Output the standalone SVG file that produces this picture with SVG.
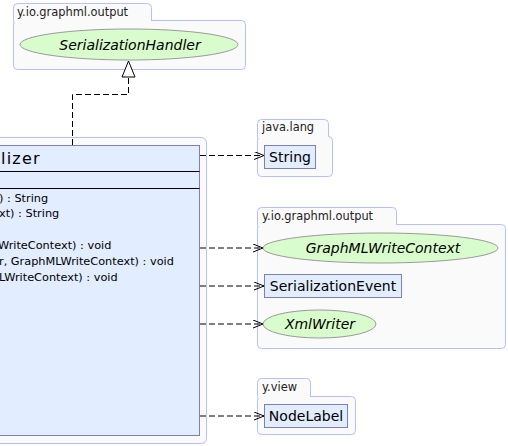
<svg xmlns="http://www.w3.org/2000/svg" width="508" height="446" viewBox="0 0 508 446">
<style>
.pkg{fill:#fafafa;stroke:#b4c0ff;stroke-width:1}
.pl{font-family:"DejaVu Sans",sans-serif;font-size:11.4px;fill:#222}
.cls{fill:#e2edff;stroke:#7c80b4;stroke-width:1}
.ell{fill:#d9fccc;stroke:#9a9a9a;stroke-width:1}
.cn{font-family:"DejaVu Sans",sans-serif;font-size:14px;fill:#000}
.it{font-style:italic}
.m{font-family:"DejaVu Sans",sans-serif;font-size:11.3px;fill:#000}
.e{fill:none;stroke:#000;stroke-width:1;stroke-dasharray:6,3}
</style>
<defs>
<marker id="vee" markerWidth="11" markerHeight="10" refX="10" refY="4" orient="auto" markerUnits="userSpaceOnUse">
<path d="M0,0 L10,4 L0,8" fill="none" stroke="#000" stroke-width="1"/>
</marker>
</defs>
<g id="pkg-top">
<rect class="pkg" x="13.5" y="3.5" width="138" height="22" rx="4"/>
<rect class="pkg" x="13.5" y="20.5" width="232" height="49" rx="4"/>
<rect x="14" y="19" width="137" height="3" fill="#fafafa"/>
<text class="pl" x="17" y="16">y.io.graphml.output</text>
</g>
<g id="SerializationHandler">
<ellipse class="ell" cx="129" cy="44.5" rx="109" ry="15.5"/>
<text class="cn it" x="130" y="49.5" text-anchor="middle">SerializationHandler</text>
</g>
<g id="class-container">
<rect class="pkg" x="-10.5" y="137.5" width="217" height="306" rx="5"/>
<rect class="cls" x="-10.5" y="145.5" width="210" height="290"/>
<line x1="-10" y1="171.5" x2="199.5" y2="171.5" stroke="#000"/>
<line x1="-10" y1="188.5" x2="199.5" y2="188.5" stroke="#000"/>
<text x="1" y="164" font-family="DejaVu Sans,sans-serif" font-size="16" letter-spacing="1.2" fill="#000">lizer</text>
<text class="m" x="-1" y="202">) : String</text>
<text class="m" x="-1" y="217">xt) : String</text>
<text class="m" x="-2" y="249">WriteContext) : void</text>
<text class="m" x="-1" y="265">r, GraphMLWriteContext) : void</text>
<text class="m" x="-1" y="281">LWriteContext) : void</text>
</g>
<g id="pkg-java-lang">
<rect class="pkg" x="257.5" y="119.5" width="71" height="22" rx="4"/>
<rect class="pkg" x="257.5" y="136.5" width="75" height="40" rx="4"/>
<rect x="258" y="135" width="70" height="3" fill="#fafafa"/>
<text class="pl" x="262" y="131">java.lang</text>
</g>
<g id="String">
<rect class="cls" x="264.5" y="145.5" width="51" height="23"/>
<text class="cn" x="290" y="162" text-anchor="middle">String</text>
</g>
<g id="pkg-output">
<rect class="pkg" x="257.5" y="207.5" width="139" height="22" rx="4"/>
<rect class="pkg" x="257.5" y="224.5" width="248" height="124" rx="4"/>
<rect x="258" y="223" width="138" height="3" fill="#fafafa"/>
<text class="pl" x="262" y="220">y.io.graphml.output</text>
</g>
<g id="GraphMLWriteContext">
<ellipse class="ell" cx="380.5" cy="248" rx="117.5" ry="15"/>
<text class="cn it" x="383" y="253" text-anchor="middle">GraphMLWriteContext</text>
</g>
<g id="SerializationEvent">
<rect class="cls" x="264.5" y="274.5" width="137" height="23"/>
<text class="cn" x="333" y="291" text-anchor="middle">SerializationEvent</text>
</g>
<g id="XmlWriter">
<ellipse class="ell" cx="319.5" cy="324" rx="56.5" ry="14"/>
<text class="cn it" x="320" y="329" text-anchor="middle">XmlWriter</text>
</g>
<g id="pkg-view">
<rect class="pkg" x="257.5" y="378.5" width="53" height="22" rx="4"/>
<rect class="pkg" x="257.5" y="396.5" width="98" height="38" rx="4"/>
<rect x="258" y="395" width="52" height="3" fill="#fafafa"/>
<text class="pl" x="262" y="391">y.view</text>
</g>
<g id="NodeLabel">
<rect class="cls" x="264.5" y="404.5" width="83" height="23"/>
<text class="cn" x="306" y="421" text-anchor="middle">NodeLabel</text>
</g>
<g id="connectors">
<polyline class="e" points="72.5,145 72.5,94.5 128.5,94.5 128.5,77"/>
<polygon points="128.5,61 122,77 135,77" fill="#fff" stroke="#000"/>
<line class="e" x1="200" y1="155.5" x2="264" y2="155.5" marker-end="url(#vee)"/>
<line class="e" x1="200" y1="248" x2="263" y2="248" marker-end="url(#vee)"/>
<line class="e" x1="200" y1="286" x2="264" y2="286" marker-end="url(#vee)"/>
<line class="e" x1="200" y1="324" x2="263" y2="324" marker-end="url(#vee)"/>
<line class="e" x1="200" y1="416" x2="264" y2="416" marker-end="url(#vee)"/>
</g>
</svg>
